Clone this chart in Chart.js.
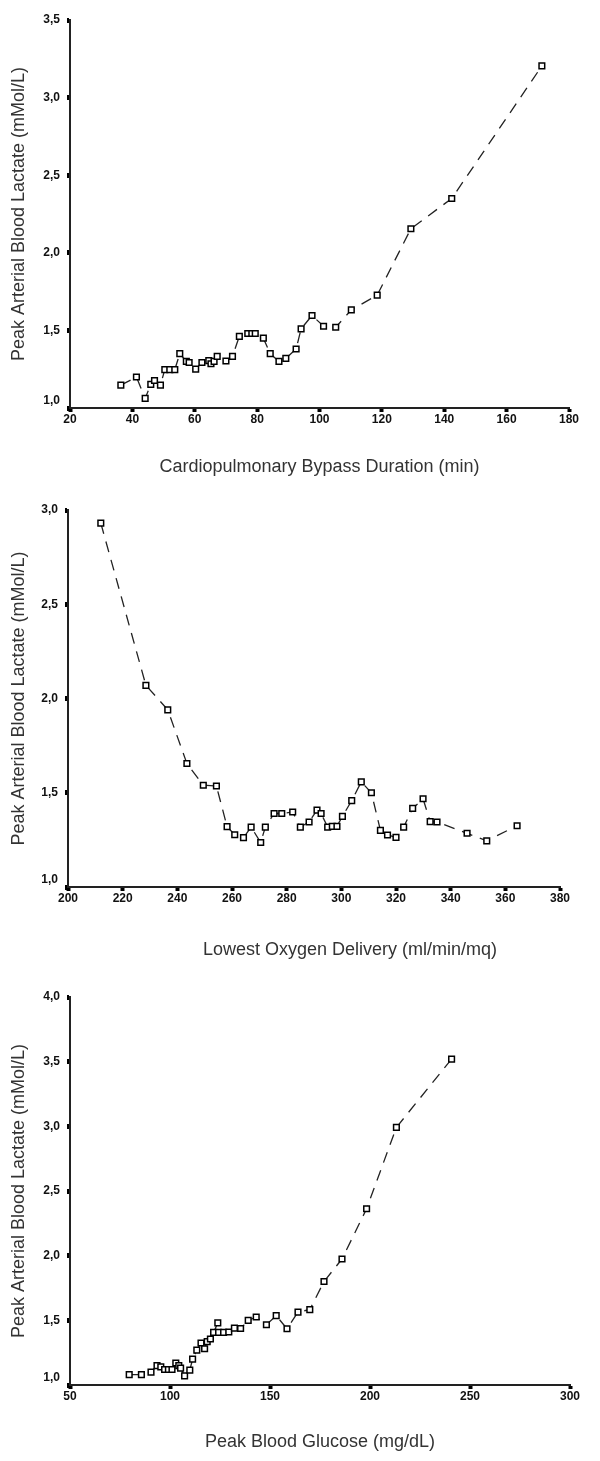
<!DOCTYPE html>
<html><head><meta charset="utf-8">
<script src="https://cdn.jsdelivr.net/npm/chart.js@4.4.1/dist/chart.umd.min.js"></script>
<style>
html,body{margin:0;padding:0;background:#fff;}
#wrap{position:relative;width:600px;height:1461px;background:#fff;}
canvas{position:absolute;left:0;}
</style></head><body>
<div id="wrap">
<canvas id="c1" width="600" height="490" style="top:0px;width:600px;height:490px"></canvas>
<canvas id="c2" width="600" height="480" style="top:490px;width:600px;height:480px"></canvas>
<canvas id="c3" width="600" height="491" style="top:970px;width:600px;height:491px"></canvas>
</div>
<script>
// ---- Data ----
const yTitle = 'Peak Arterial Blood Lactate (mMol/L)';

const bypassMinutes = [36.3, 41.3, 44.1, 45.9, 47.1, 49.0, 50.4, 52.0, 53.6, 55.2, 57.3, 58.2, 60.3, 62.3, 64.5, 65.2, 66.2, 67.2, 70.0, 72.1, 74.3, 77.0, 78.3, 79.4, 82.0, 84.2, 87.0, 89.2, 92.5, 94.1, 97.6, 101.3, 105.2, 110.2, 118.5, 129.3, 142.4, 171.3];
const bypassLactate = [1.147, 1.20, 1.062, 1.152, 1.177, 1.147, 1.247, 1.247, 1.247, 1.35, 1.30, 1.293, 1.25, 1.293, 1.305, 1.285, 1.30, 1.333, 1.303, 1.333, 1.462, 1.48, 1.48, 1.48, 1.45, 1.35, 1.30, 1.32, 1.38, 1.51, 1.596, 1.527, 1.52, 1.632, 1.727, 2.155, 2.35, 3.204];
const bypassXTicks = ['20','40','60','80','100','120','140','160','180'];
const bypassYTicks = ['1,0','1,5','2,0','2,5','3,0','3,5'];

const oxygenDelivery = [212, 228.5, 236.5, 243.5, 249.5, 254.3, 258.2, 261, 264.2, 267, 270.5, 272.2, 275.4, 278.2, 282.2, 285, 288.2, 291.1, 292.6, 295, 296.7, 298.4, 300.4, 303.8, 307.3, 311, 314.3, 316.9, 320, 322.8, 326.1, 329.9, 332.5, 335, 346, 353.2, 364.3];
const oxygenLactate = [2.93, 2.07, 1.94, 1.655, 1.54, 1.536, 1.32, 1.277, 1.262, 1.318, 1.236, 1.318, 1.39, 1.39, 1.398, 1.318, 1.345, 1.408, 1.39, 1.318, 1.322, 1.322, 1.375, 1.458, 1.558, 1.5, 1.3, 1.276, 1.263, 1.318, 1.417, 1.468, 1.347, 1.345, 1.285, 1.245, 1.325];
const oxygenXTicks = ['200','220','240','260','280','300','320','340','360','380'];
const oxygenYTicks = ['1,0','1,5','2,0','2,5','3,0'];

const glucoseValues = [79.6, 85.7, 90.5, 93.5, 95.4, 97.3, 99.2, 101, 102.9, 104.4, 105.3, 107.3, 109.9, 111.3, 113.4, 115.5, 117.3, 118.6, 120.2, 121.8, 123.9, 124.3, 126.8, 129.4, 132.2, 135.3, 139.1, 143.1, 148.2, 153.1, 158.5, 164, 169.9, 177, 186, 198.3, 213.2, 240.8];
const glucoseLactate = [1.08, 1.08, 1.10, 1.15, 1.14, 1.12, 1.12, 1.12, 1.17, 1.15, 1.13, 1.07, 1.115, 1.20, 1.27, 1.325, 1.28, 1.335, 1.356, 1.407, 1.48, 1.407, 1.407, 1.41, 1.44, 1.437, 1.50, 1.526, 1.466, 1.536, 1.435, 1.564, 1.583, 1.80, 1.974, 2.363, 2.992, 3.52];
const glucoseXTicks = ['50','100','150','200','250','300'];
const glucoseYTicks = ['1,0','1,5','2,0','2,5','3,0','3,5','4,0'];

// ---- Drawing ----
const FONT = '"Liberation Sans", Arial, Helvetica, sans-serif';

const freeXTitle = {
  id: 'freeXTitle',
  afterDraw(chart, args, opts) {
    if (!opts || !opts.text) return;
    const ctx = chart.ctx;
    ctx.save();
    ctx.font = '18px ' + FONT;
    ctx.fillStyle = '#333';
    ctx.textAlign = 'center';
    ctx.textBaseline = 'middle';
    ctx.fillText(opts.text, opts.x, opts.y);
    ctx.restore();
  }
};

function makeChart(id, xs, ys, c) {
  const pts = xs.map((x, i) => ({x: x, y: ys[i]}));
  return new Chart(document.getElementById(id), {
    type: 'line',
    data: { datasets: [{
      data: pts,
      borderColor: '#222',
      borderWidth: 1.3,
      borderDash: [11, 8],
      tension: 0,
      fill: false,
      pointStyle: 'rect',
      pointRadius: 4,
      pointBorderWidth: 1.5,
      pointBorderColor: '#000',
      pointBackgroundColor: '#fff',
      clip: false
    }]},
    plugins: [freeXTitle],
    options: {
      responsive: false,
      animation: false,
      devicePixelRatio: 1,
      layout: { padding: c.pad },
      plugins: {
        legend: { display: false },
        tooltip: { enabled: false },
        freeXTitle: c.freeTitle || {}
      },
      scales: {
        x: {
          type: 'linear',
          min: c.xMin, max: c.xMax,
          border: { display: true, color: '#222', width: 2 },
          grid: { display: true, drawOnChartArea: false, drawTicks: true, tickLength: 4, tickWidth: 4, tickColor: '#000' },
          ticks: {
            stepSize: c.xStep, padding: 0, color: '#111', maxRotation: 0, autoSkip: false,
            font: { family: FONT, size: 12, weight: 'bold' },
            callback: (v, i) => c.xLabels[i]
          },
          title: {
            display: !c.freeTitle, text: c.xTitle, color: '#333',
            font: { family: FONT, size: 18 },
            padding: { top: 0, bottom: c.xTitlePad }
          },
          afterFit: s => { s.height = c.xHeight; }
        },
        y: {
          type: 'linear',
          min: c.yMin, max: c.yMax,
          border: { display: true, color: '#222', width: 2 },
          grid: { display: true, drawOnChartArea: false, drawTicks: true, tickLength: 3, tickWidth: 5, tickColor: '#000' },
          ticks: {
            stepSize: 0.5, padding: 7, color: '#111', autoSkip: false,
            font: { family: FONT, size: 12, weight: 'bold' },
            // the lowest label sits a little above the x axis, as in the original
            callback: (v, i) => (i === 0 ? [c.yLabels[i], ''] : c.yLabels[i])
          },
          title: {
            display: true, text: yTitle, color: '#333',
            font: { family: FONT, size: 18 },
            padding: { top: 8, bottom: 0 }
          },
          afterFit: s => { s.width = c.yWidth; }
        }
      }
    }
  });
}

makeChart('c1', bypassMinutes, bypassLactate, {
  xMin: 20, xMax: 180, xStep: 20, yMin: 1, yMax: 3.5,
  xLabels: bypassXTicks, yLabels: bypassYTicks,
  xTitle: 'Cardiopulmonary Bypass Duration (min)', xTitlePad: 12,
  pad: { left: 0, top: 20, right: 31, bottom: 0 },
  xHeight: 82, yWidth: 70
});

makeChart('c2', oxygenDelivery, oxygenLactate, {
  xMin: 200, xMax: 380, xStep: 20, yMin: 1, yMax: 3,
  xLabels: oxygenXTicks, yLabels: oxygenYTicks,
  xTitle: 'Lowest Oxygen Delivery (ml/min/mq)', xTitlePad: 12,
  freeTitle: { text: 'Lowest Oxygen Delivery (ml/min/mq)', x: 350, y: 460 },
  pad: { left: 0, top: 20, right: 40, bottom: 0 },
  xHeight: 83, yWidth: 68
});

makeChart('c3', glucoseValues, glucoseLactate, {
  xMin: 50, xMax: 300, xStep: 50, yMin: 1, yMax: 4,
  xLabels: glucoseXTicks, yLabels: glucoseYTicks,
  xTitle: 'Peak Blood Glucose (mg/dL)', xTitlePad: 8,
  pad: { left: 0, top: 27, right: 30, bottom: 0 },
  xHeight: 76, yWidth: 70
});
</script>
</body></html>
